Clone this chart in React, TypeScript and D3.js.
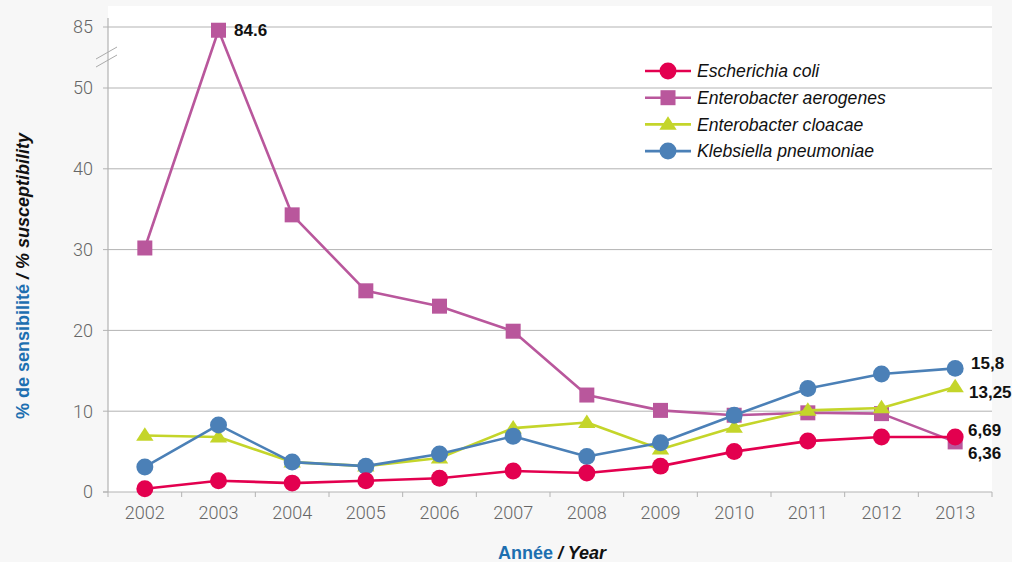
import React from "react";
import * as d3 from "d3";

const years = ["2002","2003","2004","2005","2006","2007","2008","2009","2010","2011","2012","2013"];
const ecoli = [0.4,1.4,1.1,1.4,1.7,2.6,2.35,3.2,5.0,6.3,6.8,6.8];
const aerogenes = [30.2,84.6,34.3,24.9,23.0,19.9,12.0,10.1,9.5,9.8,9.7,6.2];
const cloacae = [7.0,6.8,3.7,3.2,4.2,7.9,8.6,5.3,8.0,10.1,10.4,13.0];
const pneumoniae = [3.1,8.3,3.7,3.2,4.7,6.9,4.4,6.1,9.5,12.8,14.6,15.3];
const yTicks = [0,10,20,30,40,50,85];

const series = [
  { name: "Escherichia coli", values: ecoli, color: "#e3004f", shape: "circle" },
  { name: "Enterobacter aerogenes", values: aerogenes, color: "#b9579c", shape: "square" },
  { name: "Enterobacter cloacae", values: cloacae, color: "#c4d52a", shape: "triangle" },
  { name: "Klebsiella pneumoniae", values: pneumoniae, color: "#4b80b7", shape: "circle" },
];
const drawOrder = [1, 2, 3, 0];

const endLabels = [
  { text: "15,8", x: 971, y: 369 },
  { text: "13,25", x: 969, y: 398 },
  { text: "6,69", x: 968, y: 436 },
  { text: "6,36", x: 968, y: 459 },
];

function Marker({ shape, x, y, color, size }: any) {
  if (shape === "circle") return <circle cx={x} cy={y} r={size * 0.53} fill={color} />;
  if (shape === "square") return <rect x={x - size / 2} y={y - size / 2} width={size} height={size} fill={color} />;
  const h = size * 0.9;
  const p = d3.path();
  p.moveTo(x, y - h * 0.6);
  p.lineTo(x + size * 0.58, y + h * 0.4);
  p.lineTo(x - size * 0.58, y + h * 0.4);
  p.closePath();
  return <path d={p.toString()} fill={color} />;
}

export default function App() {
  const W = 1012, H = 562;
  const left = 108, right = 992, bottom = 492;
  const x = d3.scaleBand().domain(years).range([left, right]);
  // broken axis: 0–50 below the break, 80–85 above it at the same px/unit
  const y = d3.scaleLinear().domain([0, 50, 80, 85]).range([bottom, 88, 67.4, 27]);
  const cx = (yr: string) => (x(yr) as number) + x.bandwidth() / 2;
  const line = d3.line<number>().x((_, i) => cx(years[i])).y((v) => y(v));
  const tickFont = "Roboto, 'Liberation Sans', sans-serif";
  const textFont = "'Liberation Sans', Arial, sans-serif";
  const boundaries = years.map((yr) => x(yr) as number).concat([right]);

  return (
    <svg width={W} height={H} style={{ position: "absolute", left: 0, top: 0, background: "#f7f7f7" }}>
      <rect x={left} y={6} width={right - left} height={bottom - 6} fill="#ffffff" />
      {yTicks.map((t) => (
        <g key={t}>
          {t > 0 && <line x1={left} x2={right} y1={y(t)} y2={y(t)} stroke="#b3b3b3" strokeWidth={1} />}
          <line x1={left - 5} x2={left} y1={y(t)} y2={y(t)} stroke="#b3b3b3" strokeWidth={1} />
          <text x={93} y={y(t)} dy="0.36em" textAnchor="end" fontFamily={tickFont} fontWeight={300} fontSize={18} fill="#666">{t}</text>
        </g>
      ))}
      <line x1={left} x2={left} y1={18} y2={bottom} stroke="#b3b3b3" strokeWidth={1.2} />
      <line x1={96} y1={59} x2={117} y2={47} stroke="#aaa" strokeWidth={1} />
      <line x1={96} y1={67} x2={117} y2={55} stroke="#aaa" strokeWidth={1} />
      <line x1={left - 5} x2={right} y1={bottom} y2={bottom} stroke="#b3b3b3" strokeWidth={1.2} />
      {boundaries.map((b, i) => (
        <line key={i} x1={b} x2={b} y1={bottom} y2={bottom + 5} stroke="#b3b3b3" strokeWidth={1} />
      ))}
      {years.map((yr) => (
        <text key={yr} x={cx(yr)} y={519} textAnchor="middle" fontFamily={tickFont} fontWeight={300} fontSize={18} fill="#666">{yr}</text>
      ))}
      {drawOrder.map((si) => {
        const s = series[si];
        return (
          <g key={s.name}>
            <path d={line(s.values) as string} fill="none" stroke={s.color} strokeWidth={2.6} strokeLinejoin="round" />
            {s.values.map((v, i) => (
              <Marker key={i} shape={s.shape} x={cx(years[i])} y={y(v)} color={s.color} size={s.shape === "circle" ? 16 : 15} />
            ))}
          </g>
        );
      })}
      <text x={234} y={36} fontFamily={textFont} fontWeight="bold" fontSize={17} fill="#111">84.6</text>
      {endLabels.map((l) => (
        <text key={l.text} x={l.x} y={l.y} fontFamily={textFont} fontWeight="bold" fontSize={17} fill="#111">{l.text}</text>
      ))}
      {series.map((s, i) => {
        const ly = 71 + i * 26.7;
        return (
          <g key={s.name}>
            <line x1={645} x2={691} y1={ly} y2={ly} stroke={s.color} strokeWidth={2.6} />
            <Marker shape={s.shape} x={668} y={ly} color={s.color} size={s.shape === "circle" ? 16 : 15} />
            <text x={697} y={ly} dy="0.36em" fontFamily={textFont} fontStyle="italic" fontSize={17.6} fill="#111">{s.name}</text>
          </g>
        );
      })}
      <text transform="translate(29,276) rotate(-90)" textAnchor="middle" fontFamily={textFont} fontWeight="bold" fontSize={18}>
        <tspan fill="#1d6fb0">% de sensibilité</tspan>
        <tspan fill="#111" fontStyle="italic"> / % susceptibility</tspan>
      </text>
      <text x={552} y={559} textAnchor="middle" fontFamily={textFont} fontWeight="bold" fontSize={18}>
        <tspan fill="#1d6fb0">Année</tspan>
        <tspan fill="#111" fontStyle="italic"> / Year</tspan>
      </text>
    </svg>
  );
}
